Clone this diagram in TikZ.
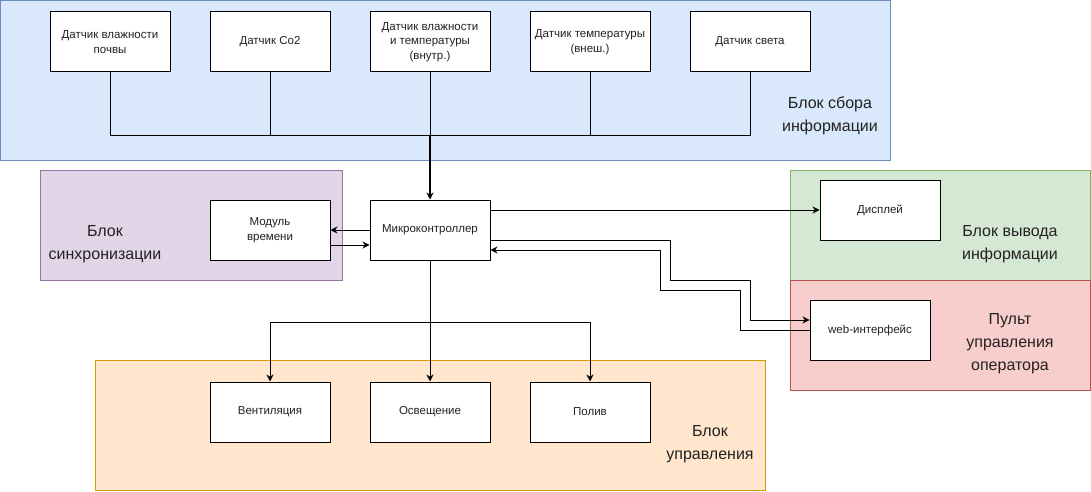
\documentclass[tikz,border=0pt]{standalone}
\usepackage{fontspec}
\setmainfont{Liberation Sans}
\usetikzlibrary{arrows.meta}

\definecolor{bluefill}{HTML}{DAE8FC}
\definecolor{bluedraw}{HTML}{6C8EBF}
\definecolor{purplefill}{HTML}{E1D5E7}
\definecolor{purpledraw}{HTML}{9673A6}
\definecolor{greenfill}{HTML}{D5E8D4}
\definecolor{greendraw}{HTML}{82B366}
\definecolor{redfill}{HTML}{F8CECC}
\definecolor{reddraw}{HTML}{B85450}
\definecolor{orangefill}{HTML}{FFE6CC}
\definecolor{orangedraw}{HTML}{D79B00}
\definecolor{txt}{HTML}{222222}

\begin{document}
\begin{tikzpicture}[x=1pt, y=-1pt, line width=1pt,
    box/.style={draw, fill=white, minimum width=120pt, minimum height=60pt,
      inner sep=0pt, align=center, text=txt, font=\fontsize{11.5}{14.5}\selectfont},
    blocklabel/.style={align=center, text=txt, inner sep=0pt,
      font=\fontsize{16}{23}\selectfont},
    arr/.style={-{Stealth[length=7pt, width=7pt]}}]
  \useasboundingbox (0,0) rectangle (1091,492);

  % block backgrounds
  \draw[draw=bluedraw, fill=bluefill] (0.5,0.5) rectangle (890,160);
  \draw[draw=purpledraw, fill=purplefill] (40,170) rectangle (342,280);
  \draw[draw=greendraw, fill=greenfill] (790,170) rectangle (1090,280);
  \draw[draw=reddraw, fill=redfill] (790,280) rectangle (1090,390);
  \draw[draw=orangedraw, fill=orangefill] (95,360) rectangle (765,490);

  \node[blocklabel] (lbcollect) at (830,116) {Блок сбора\\информации};
  \node[blocklabel] (lbsync) at (105,244) {Блок\\синхронизации};
  \node[blocklabel] (lbout) at (1010,244) {Блок вывода\\информации};
  \node[blocklabel] (lbremote) at (1010,344) {Пульт\\управления\\оператора};
  \node[blocklabel] (lbcontrol) at (710,444) {Блок\\управления};

  % sensors
  \node[box] (s1) at (110,42) {Датчик влажности\\почвы};
  \node[box] (s2) at (270,42) {Датчик Co2};
  \node[box] (s3) at (430,42) {Датчик влажности\\и температуры\\(внутр.)};
  \node[box] (s4) at (590,42) {Датчик температуры\\(внеш.)};
  \node[box] (s5) at (750,42) {Датчик света};

  % core
  \node[box] (mc) at (430,230) {Микроконтроллер};
  \node[box] (clock) at (270,230) {Модуль\\времени};
  \node[box] (disp) at (880,210) {Дисплей};
  \node[box] (web) at (870,330) {web-интерфейс};

  % actuators
  \node[box] (vent) at (270,412) {Вентиляция};
  \node[box] (light) at (430,412) {Освещение};
  \node[box] (water) at (590,412) {Полив};

  \coordinate (bus) at (430,135);
  \coordinate (split) at (430,322);

  \draw (s1.south) |- (bus);
  \draw (s2.south) |- (bus);
  \draw (s3.south) -- (bus);
  \draw (s4.south) |- (bus);
  \draw (s5.south) |- (bus);
  \draw[arr, line width=1.6pt] (bus) -- (mc.north);

  \draw[arr] (mc.west) -- (clock.east);
  \draw[arr] ([yshift=-15pt]clock.east) -- ([yshift=-15pt]mc.west);
  \draw[arr] ([yshift=20pt]mc.east) -- (disp.west);

  \draw[arr] ([yshift=-10pt]mc.east) -- (670,240) -- (670,280) -- (750,280)
    -- (750,320) -- ([yshift=10pt]web.west);
  \draw[arr] (web.west) -- (740,330) -- (740,290) -- (660,290) -- (660,250)
    -- ([yshift=-20pt]mc.east);

  \draw[arr] (mc.south) -- (light.north);
  \draw[arr] (split) -| (vent.north);
  \draw[arr] (split) -| (water.north);
\end{tikzpicture}
\end{document}
